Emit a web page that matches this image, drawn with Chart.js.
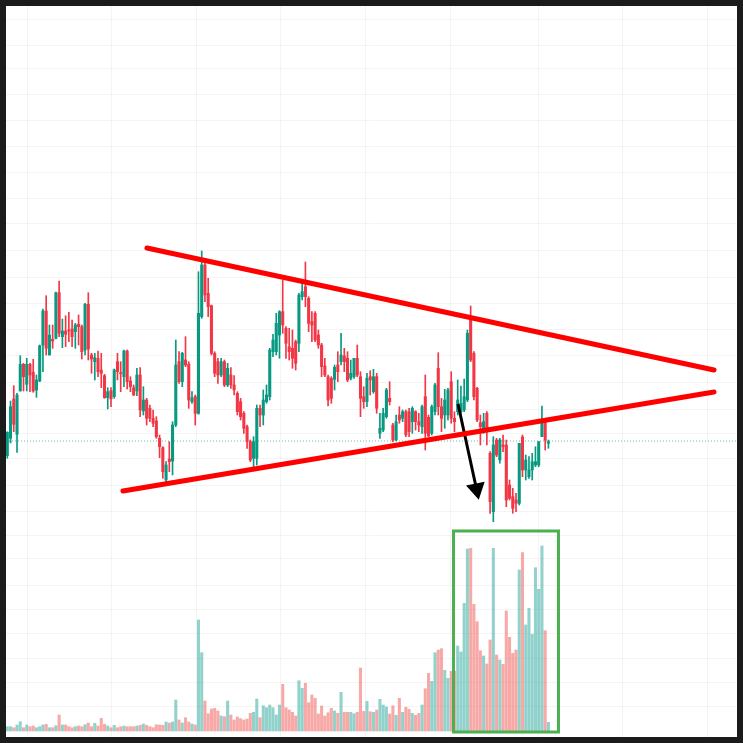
<!DOCTYPE html>
<html>
<head>
<meta charset="utf-8">
<script src="https://cdn.jsdelivr.net/npm/chart.js@4.4.0/dist/chart.umd.min.js"></script>
<style>
    html, body { margin: 0; padding: 0; background: #1b1b1b; }
    #frame { position: absolute; left: 6px; top: 6px; width: 731px; height: 731px; background: #ffffff; }
    #priceChart { display: block; }
</style>
</head>
<body>
<div id="frame"><canvas id="priceChart" width="731" height="731"></canvas></div>
<script>

// candles (open / high / low / close)
const opens = [
    27.93, 29.67, 33.6, 30.07, 34.4, 37.07, 35.07, 37.07, 36.27, 34.5,
    35.4, 39.0, 42.4, 38.0, 39.57, 39.67, 44.23, 39.83, 40.4, 40.5,
    40.6, 40.33, 41.07, 40.83, 38.5, 43.07, 38.0, 37.33, 37.67, 36.5,
    35.93, 33.73, 34.43, 33.83, 37.33, 36.23, 35.83, 38.4, 35.4, 34.73,
    34.4, 36.0, 32.4, 33.5, 32.67, 31.67, 31.4, 29.67, 28.73, 25.5,
    27.6, 27.4, 31.0, 37.33, 35.33, 37.5, 37.07, 33.33, 33.83, 32.17,
    41.83, 47.0, 44.17, 42.93, 38.17, 37.33, 36.0, 37.33, 35.0, 36.0,
    35.0, 34.17, 33.33, 32.17, 30.83, 29.33, 27.67, 27.67, 32.67, 32.0,
    33.33, 33.83, 38.33, 38.33, 40.0, 42.33, 40.67, 38.83, 38.67, 39.33,
    39.17, 43.83, 44.83, 43.67, 41.33, 42.17, 40.0, 39.0, 36.9, 35.83,
    35.67, 35.57, 37.0, 37.33, 37.9, 37.67, 35.67, 35.83, 37.67, 35.83,
    33.83, 33.33, 35.83, 34.33, 35.83, 30.17, 30.5, 31.83, 33.67, 31.0,
    29.5, 32.0, 31.67, 32.33, 32.33, 31.33, 32.33, 31.33, 30.83, 33.83,
    31.77, 30.17, 32.33, 36.67, 32.83, 32.0, 32.0, 35.33, 31.67, 32.33,
    32.33, 32.5, 33.5, 41.5, 38.17, 34.67, 31.23, 30.33, 32.17, 28.17,
    22.33, 29.5, 27.5, 29.0, 29.0, 25.0, 23.83, 23.5, 23.17, 29.8,
    26.5, 25.83, 26.5, 27.0, 27.0, 29.83, 31.23, 29.17
];
const highs = [
    30.33, 33.4, 34.93, 34.17, 37.93, 37.17, 37.67, 37.17, 37.57, 36.0,
    39.0, 42.6, 43.93, 41.0, 41.0, 44.3, 45.4, 41.6, 41.93, 42.27,
    41.5, 41.17, 42.0, 41.0, 43.17, 44.23, 38.17, 38.17, 38.4, 38.17,
    36.07, 34.73, 34.73, 36.6, 38.17, 37.33, 38.5, 38.5, 35.83, 35.0,
    36.67, 36.73, 34.83, 33.67, 33.0, 32.5, 31.83, 30.0, 28.83, 27.33,
    29.33, 31.33, 39.5, 38.33, 38.27, 39.83, 37.33, 34.33, 34.0, 46.33,
    48.4, 47.67, 45.67, 43.0, 38.33, 37.67, 37.67, 37.5, 37.17, 36.73,
    35.93, 34.33, 33.67, 32.33, 31.0, 29.5, 29.83, 33.0, 33.0, 34.5,
    35.0, 38.67, 40.07, 42.17, 42.43, 45.5, 40.83, 40.67, 40.5, 39.5,
    44.17, 45.33, 47.3, 43.83, 42.33, 42.33, 40.5, 39.17, 37.67, 36.0,
    35.83, 37.0, 38.33, 40.17, 38.67, 38.33, 37.5, 37.67, 39.0, 36.33,
    34.83, 36.17, 36.43, 36.57, 36.17, 32.17, 32.67, 34.67, 35.33, 31.17,
    32.0, 32.83, 32.5, 32.5, 32.67, 32.83, 32.43, 32.17, 33.0, 36.0,
    32.0, 33.0, 35.17, 38.23, 33.67, 34.57, 34.67, 36.33, 32.33, 35.5,
    34.9, 35.6, 40.5, 42.9, 38.33, 34.77, 32.0, 32.17, 32.33, 28.33,
    29.83, 29.67, 29.67, 30.0, 29.5, 25.5, 24.67, 24.17, 29.17, 30.0,
    28.0, 27.83, 28.17, 28.83, 29.33, 32.9, 31.5, 29.5
];
const lows = [
    27.67, 29.2, 30.33, 28.27, 34.4, 34.4, 34.4, 34.33, 34.27, 33.77,
    35.33, 36.33, 38.0, 38.0, 38.67, 39.6, 39.83, 38.73, 38.83, 39.33,
    38.83, 38.67, 39.0, 37.6, 38.0, 37.5, 36.17, 35.5, 35.83, 34.73,
    33.67, 32.6, 32.83, 33.67, 35.5, 34.33, 34.83, 34.6, 34.33, 33.93,
    33.93, 31.83, 32.0, 31.0, 31.33, 30.83, 29.67, 27.73, 25.67, 25.2,
    26.33, 26.0, 30.83, 35.17, 34.83, 36.83, 32.67, 33.17, 31.0, 32.07,
    41.67, 43.33, 41.83, 38.0, 35.83, 35.17, 35.83, 34.83, 34.83, 34.67,
    34.0, 32.0, 31.5, 30.17, 28.67, 27.33, 26.83, 27.0, 30.83, 31.0,
    33.17, 33.5, 37.83, 38.0, 37.67, 40.17, 37.67, 37.5, 36.67, 36.5,
    38.33, 43.5, 42.83, 40.33, 39.33, 39.33, 38.67, 35.83, 35.83, 32.9,
    33.17, 34.5, 35.33, 37.0, 36.33, 35.33, 35.5, 35.67, 35.83, 31.83,
    32.67, 32.83, 34.0, 34.17, 32.17, 29.67, 30.33, 31.67, 33.0, 29.33,
    29.4, 31.17, 31.33, 29.83, 29.83, 30.17, 30.5, 30.33, 30.17, 28.5,
    29.83, 30.0, 32.0, 32.0, 30.33, 30.67, 31.5, 31.17, 30.33, 32.0,
    32.17, 32.33, 33.33, 37.33, 33.5, 31.33, 29.0, 30.17, 29.0, 22.17,
    21.33, 27.83, 27.17, 28.33, 22.83, 23.5, 22.17, 22.33, 23.0, 25.83,
    25.5, 25.67, 25.5, 26.83, 26.83, 29.83, 28.5, 28.67
];
const closes = [
    30.27, 32.83, 31.07, 34.0, 37.07, 35.83, 37.07, 36.0, 34.4, 35.5,
    38.93, 42.4, 38.67, 40.0, 39.4, 44.23, 40.17, 40.4, 40.07, 40.4,
    39.83, 41.0, 40.83, 38.33, 43.07, 38.6, 37.6, 37.73, 36.33, 36.17,
    33.73, 34.33, 33.6, 36.5, 36.33, 36.13, 38.4, 35.33, 34.83, 34.0,
    36.0, 32.5, 33.5, 31.67, 31.67, 31.17, 29.83, 28.83, 26.33, 27.0,
    27.33, 31.0, 37.0, 35.33, 38.17, 37.0, 33.5, 33.73, 32.17, 42.17,
    47.0, 44.0, 42.83, 38.17, 36.17, 36.0, 37.33, 35.0, 36.67, 35.0,
    34.5, 32.33, 31.83, 30.67, 29.33, 27.5, 29.33, 32.67, 32.0, 33.5,
    34.0, 38.5, 39.5, 41.17, 42.33, 41.0, 39.17, 38.33, 37.67, 37.17,
    44.0, 44.33, 43.83, 41.17, 41.0, 39.5, 39.0, 36.83, 36.0, 33.5,
    33.67, 36.77, 36.33, 38.0, 37.33, 35.5, 36.17, 37.67, 36.0, 33.67,
    33.33, 35.67, 35.5, 35.83, 32.67, 30.67, 32.17, 34.5, 33.33, 29.5,
    31.33, 31.5, 32.33, 30.0, 30.33, 32.67, 31.33, 31.0, 32.83, 30.17,
    29.9, 32.83, 35.0, 32.83, 31.67, 33.5, 34.5, 31.67, 31.33, 33.5,
    33.17, 33.83, 40.17, 37.5, 33.83, 31.5, 30.83, 31.33, 30.5, 23.33,
    29.0, 28.0, 29.5, 28.83, 23.5, 23.67, 22.67, 23.17, 29.17, 26.5,
    27.5, 26.5, 27.33, 27.33, 29.33, 31.33, 29.5, 29.33
];
const volumes = [
    4.3, 4.3, 3.3, 6, 9.3, 3.3, 6, 4.3, 5, 3.3,
    4.3, 6, 6.7, 3.3, 3.3, 5.3, 16, 6, 6, 4.3,
    3.3, 4.3, 5, 4.3, 6.3, 8, 4.3, 7.7, 5, 12.7,
    6.7, 5, 3.3, 5.7, 3.3, 4.3, 5, 4.3, 4.3, 4.3,
    5, 5.7, 7, 5.7, 4.3, 3.3, 6.3, 6, 5.7, 9,
    8, 9, 31, 11, 8, 13.3, 9, 7, 6, 111,
    78.3, 30, 17.3, 22, 22.7, 20, 15, 14.3, 30, 16,
    11, 14, 12.3, 11, 12, 17.7, 18.7, 32, 13.3, 25.3,
    23.3, 26, 23.3, 16, 26, 46.7, 23.3, 21, 18.7, 15,
    50.3, 42.7, 47.7, 28.3, 36, 32.7, 17, 25, 15, 18.3,
    22.7, 20, 17.7, 38.7, 18.7, 18.7, 18.7, 17.3, 18.7, 63,
    19.7, 29.7, 19.3, 18.7, 21, 31.7, 26, 24, 17, 25.3,
    15.7, 32.7, 18.7, 23.7, 21.7, 17.7, 15.7, 17.7, 26, 42.3,
    57.7, 49.7, 78.3, 81, 82.3, 60.7, 52.7, 59.7, 60, 85,
    79, 127.7, 182, 182.7, 126.7, 109.3, 80.3, 75, 67, 91,
    182.7, 76, 71, 66.7, 120, 93.7, 77.7, 81, 161, 178.3,
    106, 122.7, 96.7, 163.3, 141.7, 185, 100.3, 8.7
];

// drawings on top of the chart (bar index, price)
const upperTrend = [{ x: 43.1, y: 48.7 }, { x: 218.1, y: 36.5 }];
const lowerTrend = [{ x: 35.7, y: 24.4 }, { x: 218.1, y: 34.3 }];
const arrowPath = [{ x: 139.1, y: 33.1 }, { x: 144.8, y: 24.6 }];
const volumeBox = [
    { x: 137.7, y: 20.4 }, { x: 170.1, y: 20.4 }, { x: 170.1, y: 0.3 },
    { x: 137.7, y: 0.3 }, { x: 137.7, y: 20.4 }, { x: 170.1, y: 20.4 }
];
const lastPrice = 29.4;

// grid positions (bar index / price)
const xGrid = [6.17, 32.3, 58.46, 84.38, 110.5, 136.9, 163.9, 190.0, 215.95];
const yGrid = [71.6, 69.0, 66.7, 64.1, 61.5, 58.9, 56.3, 53.7, 51.1, 48.5, 45.8, 43.2, 40.6, 38.0,
    35.2, 32.6, 30.2, 27.7, 25.0, 22.4, 20.0, 17.7, 15.0, 12.6, 10.2, 7.7, 5.3, 2.9];

const UP = '#089981';
const DOWN = '#f23645';

const idx = opens.map((_, i) => i);
const isUp = idx.map(i => closes[i] >= opens[i]);
const candleColors = isUp.map(u => u ? UP : DOWN);
const volumeColors = isUp.map(u => u ? 'rgba(38, 166, 154, 0.5)' : 'rgba(239, 83, 80, 0.5)');

const X_MIN = -0.4;
const X_MAX = 225.2;

const gridStyle = { color: 'rgba(0, 0, 0, 0.042)', drawTicks: false, offset: false };

const ctx = document.getElementById('priceChart').getContext('2d');
new Chart(ctx, {
    type: 'bar',
    data: {
        datasets: [
            {
                type: 'line',
                data: upperTrend,
                borderColor: '#ff0000',
                borderWidth: 5,
                borderCapStyle: 'round',
                pointRadius: 0,
                order: 0
            },
            {
                type: 'line',
                data: lowerTrend,
                borderColor: '#ff0000',
                borderWidth: 5,
                borderCapStyle: 'round',
                pointRadius: 0,
                order: 0
            },
            {
                type: 'line',
                data: arrowPath,
                borderColor: '#000000',
                borderWidth: 3,
                pointRadius: [0, 8],
                pointStyle: 'triangle',
                pointRotation: 168,
                pointBackgroundColor: '#000000',
                pointBorderColor: '#000000',
                order: 0
            },
            {
                type: 'line',
                data: volumeBox,
                borderColor: '#4caf50',
                borderWidth: 3,
                borderJoinStyle: 'miter',
                pointRadius: 0,
                order: 1
            },
            {
                type: 'line',
                data: [{ x: X_MIN, y: lastPrice }, { x: X_MAX, y: lastPrice }],
                borderColor: 'rgba(38, 166, 154, 0.75)',
                borderWidth: 1,
                borderDash: [1, 2],
                pointRadius: 0,
                order: 6
            },
            // wicks
            {
                data: idx.map(i => ({ x: i, y: [lows[i], highs[i]] })),
                backgroundColor: candleColors,
                barThickness: 1,
                grouped: false,
                order: 3
            },
            // bodies
            {
                data: idx.map(i => ({ x: i, y: [opens[i], closes[i]] })),
                backgroundColor: candleColors,
                barThickness: 2.4,
                minBarLength: 1,
                grouped: false,
                order: 2
            },
            // volume
            {
                data: idx.map(i => ({ x: i, y: volumes[i] })),
                yAxisID: 'yv',
                backgroundColor: volumeColors,
                barThickness: 2.4,
                grouped: false,
                order: 4
            }
        ]
    },
    options: {
        responsive: false,
        animation: false,
        layout: { padding: 0, autoPadding: false },
        plugins: {
            legend: { display: false },
            tooltip: { enabled: false }
        },
        scales: {
            x: {
                type: 'linear',
                min: X_MIN,
                max: X_MAX,
                offset: false,
                grid: gridStyle,
                border: { display: false },
                ticks: { display: false },
                afterBuildTicks: axis => { axis.ticks = xGrid.map(v => ({ value: v })); }
            },
            y: {
                type: 'linear',
                min: -0.2,
                max: 72.9,
                grid: gridStyle,
                border: { display: false },
                ticks: { display: false },
                afterBuildTicks: axis => { axis.ticks = yGrid.map(v => ({ value: v })); }
            },
            yv: {
                type: 'linear',
                display: false,
                min: -6,
                max: 725
            }
        }
    }
});
</script>
</body>
</html>
